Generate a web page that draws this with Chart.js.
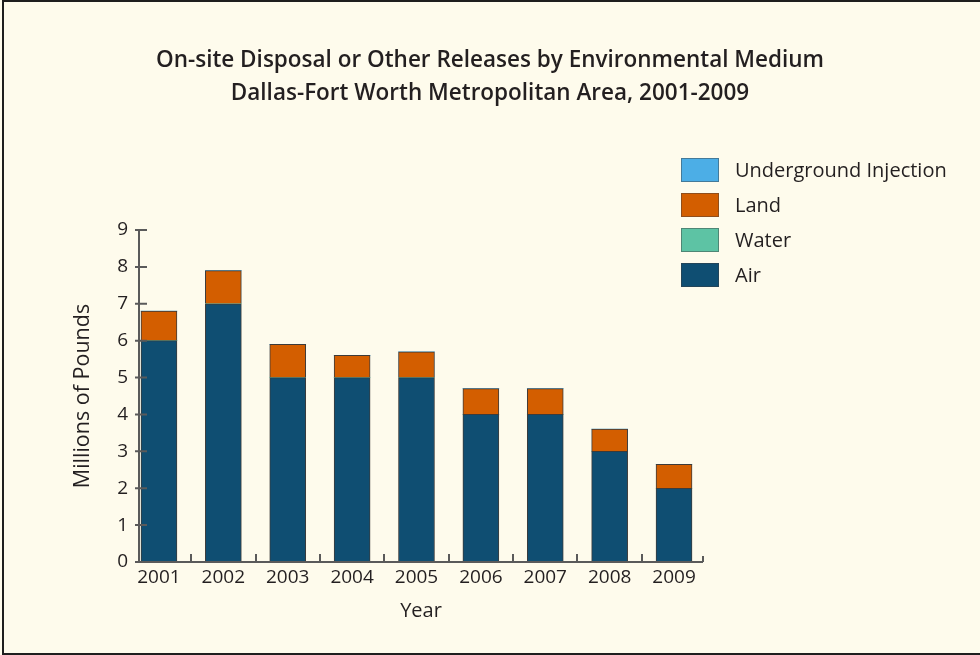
<!DOCTYPE html>
<html lang="en">
<head>
<meta charset="utf-8">
<title>On-site Disposal or Other Releases by Environmental Medium</title>
<script src="https://cdn.jsdelivr.net/npm/chart.js@4.4.1/dist/chart.umd.min.js"></script>
<style>
  html, body { margin: 0; padding: 0; background: #fefbec; }
  .frame {
    position: absolute; left: 2px; top: 0; width: 978px; height: 651px;
    border-left: 2px solid #1e1e1e; border-top: 2px solid #1e1e1e; border-bottom: 2px solid #1e1e1e;
    background: #fefbec;
  }
  #releasesChart { position: absolute; left: 0; top: 0; }
</style>
</head>
<body>
<div class="frame"></div>
<canvas id="releasesChart" width="980" height="655"></canvas>
<script>
// ── Data (millions of pounds) ─────────────────────────────
const years       = [2001, 2002, 2003, 2004, 2005, 2006, 2007, 2008, 2009];
const air         = [6.0, 7.0, 5.0, 5.0, 5.0, 4.0, 4.0, 3.0, 2.0];
const water       = [0, 0, 0, 0, 0, 0, 0, 0, 0];
const land        = [0.8, 0.9, 0.9, 0.6, 0.7, 0.7, 0.7, 0.6, 0.65];
const injection   = [0, 0, 0, 0, 0, 0, 0, 0, 0];
const yTicks      = [0, 1, 2, 3, 4, 5, 6, 7, 8, 9];

const FONT = "'Open Sans', 'Noto Sans', sans-serif";
const INK  = "#231f20";
const AXIS = "#5a5a5a";

document.addEventListener("DOMContentLoaded", () => {

  // ── Axis lines and tick marks (crossing / upward) ───────
  const axisMarks = {
    id: "axisMarks",
    afterDatasetsDraw(chart) {
      const { ctx, chartArea: a, scales: { x, y } } = chart;
      ctx.save();
      ctx.strokeStyle = AXIS;
      ctx.lineWidth = 2;
      ctx.beginPath();
      ctx.moveTo(a.left, y.getPixelForValue(9));
      ctx.lineTo(a.left, a.bottom);
      ctx.moveTo(a.left - 4, a.bottom);
      ctx.lineTo(a.right, a.bottom);
      // y ticks poke a little left, mostly right
      yTicks.forEach(v => {
        const py = y.getPixelForValue(v);
        ctx.moveTo(a.left - 4, py);
        ctx.lineTo(a.left + 8, py);
      });
      // x ticks sit between the years, plus one at the end
      years.slice(0, -1).forEach(yr => {
        const px = Math.round(x.getPixelForValue(yr + 0.5));
        ctx.moveTo(px, a.bottom);
        ctx.lineTo(px, a.bottom - 8);
      });
      ctx.moveTo(a.right, a.bottom);
      ctx.lineTo(a.right, a.bottom - 6);
      ctx.stroke();
      ctx.restore();
    }
  };

  // ── Legend block, top right, stacked top-down ───────────
  const sideLegend = {
    id: "sideLegend",
    afterDraw(chart) {
      const { ctx } = chart;
      const items = chart.data.datasets.slice().reverse();
      ctx.save();
      ctx.font = "20px " + FONT;
      ctx.textBaseline = "middle";
      items.forEach((ds, i) => {
        const top = 158 + i * 35;
        ctx.fillStyle = ds.backgroundColor;
        ctx.fillRect(681, top, 38, 24);
        ctx.strokeStyle = "rgba(60,60,60,0.45)";
        ctx.lineWidth = 1;
        ctx.strokeRect(681.5, top + 0.5, 37, 23);
        ctx.fillStyle = INK;
        ctx.fillText(ds.label, 735, top + 13);
      });
      ctx.restore();
    }
  };

  const barStyle = {
    barThickness: 36,
    borderColor: "#3b3b3b",
    borderWidth: 1,
    borderSkipped: "bottom"
  };

  // ── Chart ───────────────────────────────────────────────
  const ctx = document.getElementById("releasesChart").getContext("2d");

  new Chart(ctx, {
    type: "bar",
    data: {
      labels: years,
      datasets: [
        { label: "Air",                   data: air,       backgroundColor: "#0f4e72", ...barStyle },
        { label: "Water",                 data: water,     backgroundColor: "#5dc3a4", ...barStyle, borderWidth: 0 },
        { label: "Land",                  data: land,      backgroundColor: "#d35e00", ...barStyle },
        { label: "Underground Injection", data: injection, backgroundColor: "#4caee6", ...barStyle, borderWidth: 0 }
      ]
    },
    options: {
      responsive: false,
      animation: false,
      devicePixelRatio: 1,
      layout: { padding: { left: 0, right: 0, top: 0, bottom: 31.6 } },
      plugins: {
        legend:  { display: false },
        tooltip: { enabled: false },
        title: {
          display: true,
          text: [
            "On-site Disposal or Other Releases by Environmental Medium",
            "Dallas-Fort Worth Metropolitan Area, 2001-2009"
          ],
          color: INK,
          font: { family: FONT, size: 22.5, weight: "600", lineHeight: 1.4667 },
          padding: { top: 44.5, bottom: 119.5 }
        }
      },
      scales: {
        x: {
          type: "linear",
          stacked: true,
          offset: false,
          min: 2000.69,
          max: 2009.45,
          grid:   { display: false, drawTicks: false },
          border: { display: false },
          afterBuildTicks: s => { s.ticks = years.map(v => ({ value: v })); },
          afterFit: s => { s.height = 61.4; },
          ticks: {
            color: INK,
            padding: 4,
            font: { family: FONT, size: 19 },
            callback: v => String(v)
          },
          title: {
            display: true,
            text: "Year",
            color: INK,
            font: { family: FONT, size: 20 },
            padding: { top: 13, bottom: 0 }
          }
        },
        y: {
          stacked: true,
          min: 0,
          max: 9,
          grid:   { display: false, drawTicks: false },
          border: { display: false },
          afterBuildTicks: s => { s.ticks = yTicks.map(v => ({ value: v })); },
          afterFit: s => { s.width = 139; },
          ticks: {
            color: INK,
            padding: 11,
            font: { family: FONT, size: 19 }
          },
          title: {
            display: true,
            text: "Millions of Pounds",
            color: INK,
            font: { family: FONT, size: 21.5 },
            padding: { top: 70, bottom: 0 }
          }
        },
        // empty right-hand gutter that holds the legend
        gutter: {
          type: "linear",
          position: "right",
          grid:   { display: false, drawTicks: false },
          border: { display: false },
          ticks:  { display: false },
          afterFit: s => { s.width = 277; }
        }
      }
    },
    plugins: [axisMarks, sideLegend]
  });
});
</script>
</body>
</html>
